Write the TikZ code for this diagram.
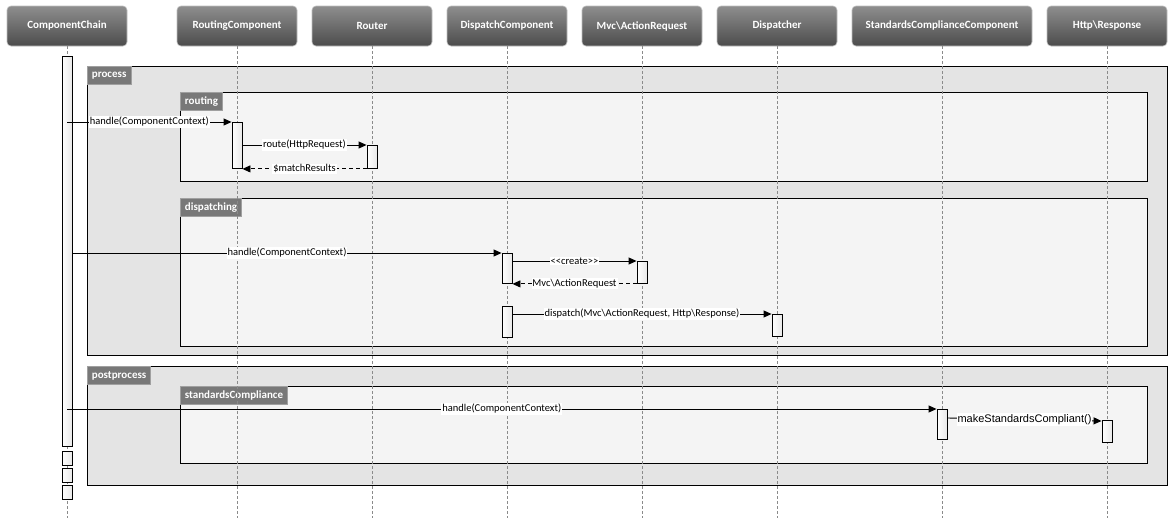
\documentclass[tikz,border=0pt]{standalone}
\usepackage{fontspec}
\setmainfont{Carlito}
\newfontfamily\arialfont{Liberation Sans}
\usetikzlibrary{arrows.meta}

\definecolor{frameout}{HTML}{E4E4E4}
\definecolor{framein}{HTML}{F4F4F4}
\definecolor{tabgray}{HTML}{787878}
\definecolor{tabedge}{HTML}{A0A0A0}
\definecolor{headtop}{HTML}{8E8E8E}
\definecolor{headbot}{HTML}{4C4C4C}
\definecolor{lifegray}{HTML}{8A8A8A}

\tikzset{
  header/.style={rounded corners=4pt, top color=headtop, bottom color=headbot,
    draw=gray!50, line width=0.6pt, minimum width=120, minimum height=40,
    text=white, font=\bfseries\fontsize{11}{13}\selectfont, inner sep=0pt},
  lifeline/.style={draw=lifegray, line width=0.8pt, dash pattern=on 3pt off 2pt},
  outerframe/.style={draw=black, line width=1.1pt, fill=frameout, anchor=north west, inner sep=0pt},
  innerframe/.style={draw=black, line width=1.1pt, fill=framein, anchor=north west, inner sep=0pt},
  frametab/.style={fill=tabgray, draw=tabedge, line width=0.8pt, anchor=north west,
    text=white, font=\bfseries\fontsize{11}{13}\selectfont, minimum height=18,
    inner xsep=4.5pt, inner ysep=0pt},
  act/.style={draw=black, line width=0.9pt, left color=white, right color=gray!18,
    minimum width=10, anchor=north, inner sep=0pt},
  msg/.style={draw=black, line width=0.9pt, -{Triangle[length=8pt,width=7pt]}},
  reply/.style={msg, dash pattern=on 4pt off 3pt},
  lbl/.style={fill=white, inner xsep=1pt, inner ysep=1pt, text=black,
    font=\fontsize{10.5}{12}\selectfont},
  lblarial/.style={lbl, font=\arialfont\fontsize{11}{12}\selectfont},
}

\begin{document}
\begin{tikzpicture}[x=1pt, y=-1pt]
  \useasboundingbox (0,0) rectangle (1176,525);
  \fill[white] (0,0) rectangle (1176,525);

  % participants
  \node[header] (hcc)  at (67,26)   {ComponentChain};
  \node[header] (hrc)  at (237,26)  {RoutingComponent};
  \node[header] (hrt)  at (372,26)  {Router};
  \node[header] (hdc)  at (507,26)  {DispatchComponent};
  \node[header] (hmr)  at (642,26)  {Mvc\textbackslash ActionRequest};
  \node[header] (hdp)  at (777,26)  {Dispatcher};
  \node[header, minimum width=180] (hsc) at (942,26) {StandardsComplianceComponent};
  \node[header] (hhr)  at (1107,26) {Http\textbackslash Response};

  \coordinate (bottom) at (0,518);

  % combined fragments
  \node[outerframe, minimum width=1080, minimum height=289] (process) at (87,66) {};
  \node[frametab] (processtab) at (process.north west) {process};
  \node[innerframe, minimum width=967, minimum height=89] (routing) at (180,92) {};
  \node[frametab] (routingtab) at (routing.north west) {routing};
  \node[innerframe, minimum width=967, minimum height=148] (dispatching) at (180,198) {};
  \node[frametab] (dispatchingtab) at (dispatching.north west) {dispatching};

  \node[outerframe, minimum width=1080, minimum height=119] (postprocess) at (87,366) {};
  \node[frametab] (postprocesstab) at (postprocess.north west) {postprocess};
  \node[innerframe, minimum width=967, minimum height=77] (compliance) at (180,386) {};
  \node[frametab] (compliancetab) at (compliance.north west) {standardsCompliance};

  % lifelines
  \foreach \h in {hcc,hrc,hrt,hdc,hmr,hdp,hsc,hhr}
    \draw[lifeline] (\h.south) -- (\h.south |- bottom);

  % activations
  \node[act, minimum height=390] (cc)  at (67,56)  {};
  \node[act, minimum height=14]  (cc2) at (67,451) {};
  \node[act, minimum height=14]  (cc3) at (67,468) {};
  \node[act, minimum height=14]  (cc4) at (67,485) {};
  \node[act, minimum height=46]  (rc1) at (237,122) {};
  \node[act, minimum height=23]  (rt1) at (372,145) {};
  \node[act, minimum height=30]  (dc1) at (507,253) {};
  \node[act, minimum height=22]  (mr1) at (642,261) {};
  \node[act, minimum height=31]  (dc2) at (507,306) {};
  \node[act, minimum height=22]  (dp1) at (777,314) {};
  \node[act, minimum height=30]  (sc1) at (942,409) {};
  \node[act, minimum height=22]  (hr1) at (1107,420) {};

  % messages
  \draw[msg] (cc.center |- rc1.north) -- node[lbl] {handle(ComponentContext)} (rc1.north west);
  \draw[msg] (rc1.east |- rt1.north) -- node[lbl] {route(HttpRequest)} (rt1.north west);
  \draw[reply] (rt1.south west) -- node[lbl] {\$matchResults} (rc1.south east);

  \draw[msg] (cc.east |- dc1.north) -- node[lbl] {handle(ComponentContext)} (dc1.north west);
  \draw[msg] (dc1.east |- mr1.north) -- node[lbl] {<{}<create>{}>} (mr1.north west);
  \draw[reply] (mr1.south west) -- node[lbl] {Mvc\textbackslash ActionRequest} (dc1.south east);
  \draw[msg] (dc2.east |- dp1.north) -- node[lbl] {dispatch(Mvc\textbackslash ActionRequest, Http\textbackslash Response)} (dp1.north west);

  \draw[msg] (cc.center |- sc1.north) -- node[lbl] {handle(ComponentContext)} (sc1.north west);
  \draw[msg] ([yshift=-9pt]sc1.north east) -- node[lblarial] {makeStandardsCompliant()} ([yshift=-1pt]hr1.north west);
\end{tikzpicture}
\end{document}
